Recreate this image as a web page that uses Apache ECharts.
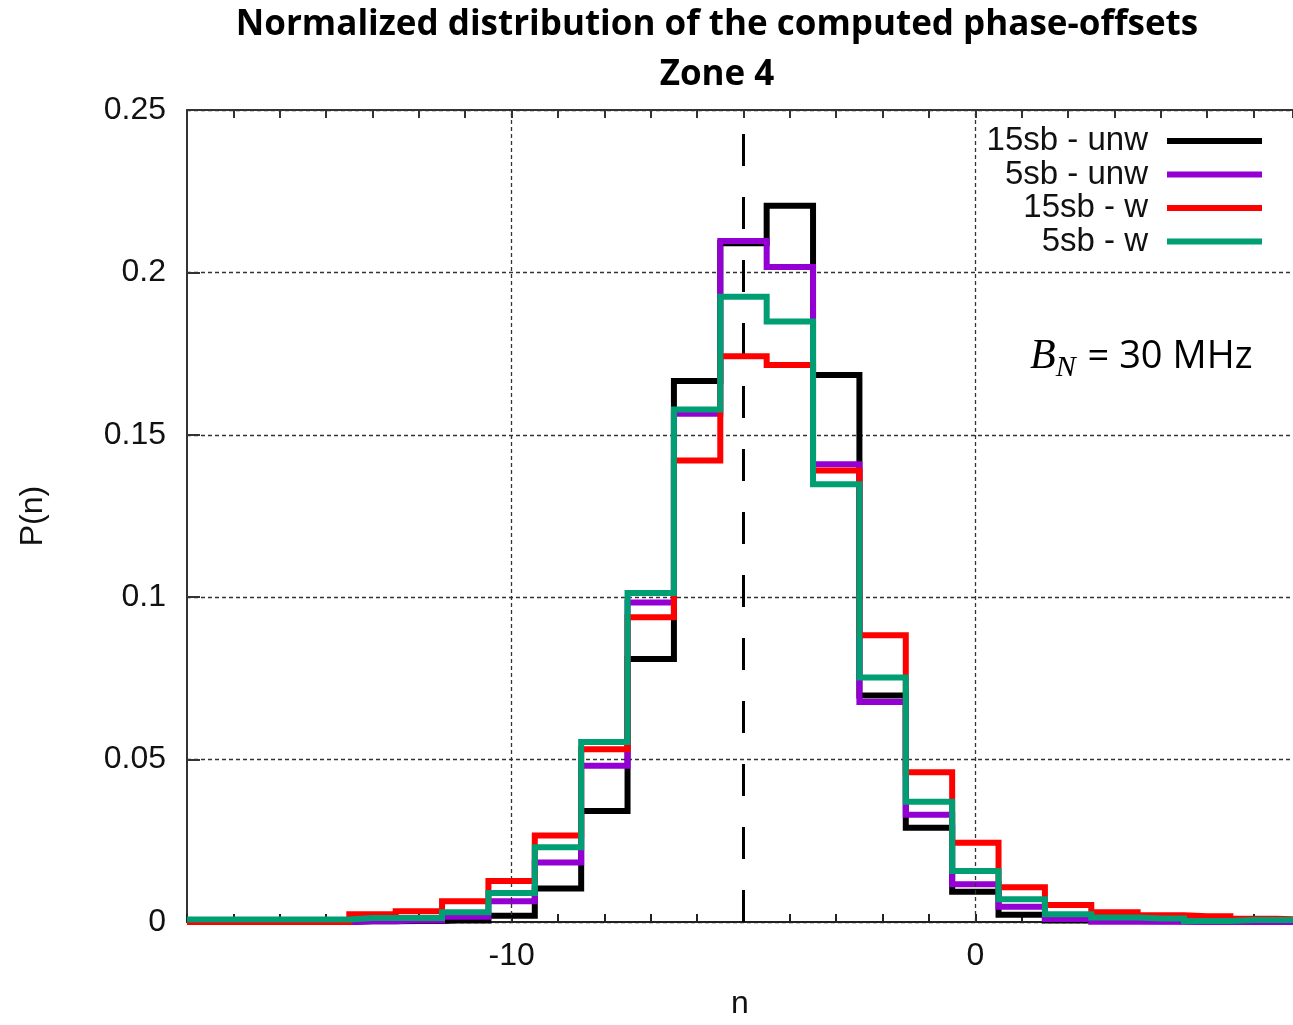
<!DOCTYPE html>
<html>
<head>
<meta charset="utf-8">
<title>Normalized distribution of the computed phase-offsets</title>
<script src="https://cdn.jsdelivr.net/npm/echarts@6/dist/echarts.min.js"></script>
<style>
  html, body { margin: 0; padding: 0; background: #fff; }
  #chart { width: 1293px; height: 1025px; }
</style>
</head>
<body>
<div id="chart"></div>
<script>
// bin centres n (bins are 1 wide)
const nBins = [-17, -16, -15, -14, -13, -12, -11, -10, -9, -8, -7, -6, -5, -4, -3, -2, -1, 0, 1, 2, 3, 4, 5, 6, 7]

const seriesNames = ['15sb - unw', '5sb - unw', '15sb - w', '5sb - w']
const seriesColors = ['#000000', '#9400d3', '#ff0000', '#009e73']

const unw15 = [0, 0, 0, 0, 0.0002, 0.0003, 0.0005, 0.0019, 0.0103, 0.0342, 0.081, 0.1666, 0.209, 0.2205, 0.1684, 0.0697, 0.029, 0.0093, 0.0022, 0.0005, 0.0003, 0.0002, 0.0001, 0.0001, 0]
const unw5 = [0, 0, 0, 0, 0.0002, 0.0005, 0.0016, 0.0064, 0.0183, 0.0481, 0.0984, 0.1565, 0.2097, 0.2017, 0.1409, 0.0677, 0.033, 0.0116, 0.0047, 0.0009, 0.0001, 0.0001, 0, 0, 0]
const w15 = [0, 0, 0, 0, 0.0024, 0.0033, 0.0064, 0.0126, 0.0266, 0.0532, 0.0938, 0.1421, 0.1742, 0.1715, 0.139, 0.0883, 0.0461, 0.0244, 0.0107, 0.0052, 0.003, 0.0021, 0.0018, 0.001, 0.0008]
const w5 = [0.0008, 0.0008, 0.0008, 0.0008, 0.0012, 0.0012, 0.003, 0.0089, 0.023, 0.0554, 0.1013, 0.1578, 0.1925, 0.1849, 0.1348, 0.0753, 0.037, 0.0157, 0.007, 0.0024, 0.0014, 0.0011, 0.0003, 0.0006, 0.0006]

const xLabels = [-10, 0]
const gridX = [-10, 0]
const meanN = -5

const chart = echarts.init(document.getElementById('chart'))

const allValues = [unw15, unw5, w15, w5]
const histSeries = allValues.map((vals, i) => ({
  name: seriesNames[i],
  type: 'line',
  step: 'middle',
  showSymbol: false,
  symbol: 'none',
  clip: true,
  z: 3 + i,
  color: seriesColors[i],
  lineStyle: { width: 6, color: seriesColors[i], join: 'miter', cap: 'butt' },
  data: nBins.map((n, j) => [n, vals[j]])
}))

const gridLine = { color: '#333', width: 1.3, type: [4, 3] }

const labelFont = {
  fontFamily: 'Liberation Sans',
  fontSize: 32,
  color: '#111'
}

chart.setOption({
  animation: false,
  backgroundColor: '#fff',
  title: {
    text: 'Normalized distribution of the computed phase-offsets\nZone 4',
    left: 717,
    top: 0,
    padding: 0,
    textAlign: 'center',
    textStyle: {
      fontFamily: 'Open Sans',
      fontWeight: 'bold',
      fontSize: 35,
      lineHeight: 50,
      color: '#000'
    }
  },
  legend: seriesNames.map((nm, i) => ({
    data: [nm],
    right: 31,
    top: 124 + i * 33.5,
    padding: 0,
    orient: 'vertical',
    align: 'right',
    icon: 'rect',
    itemWidth: 95,
    itemHeight: 6,
    selectedMode: false,
    textStyle: Object.assign({}, labelFont, { fontSize: 33, lineHeight: 34, padding: [0, 14, 0, 0] })
  })),
  grid: { left: 187, right: 0, top: 110, height: 818, containLabel: false },
  xAxis: [
    {
      type: 'value',
      position: 'bottom',
      min: -17,
      max: 6.85,
      interval: 1,
      name: 'n',
      nameLocation: 'middle',
      nameGap: 66,
      nameTextStyle: labelFont,
      axisLine: { show: true, onZero: false, lineStyle: { color: '#222', width: 2 } },
      axisTick: { show: true, inside: true, length: 8, lineStyle: { color: '#222', width: 2 } },
      axisLabel: {
        margin: 18,
        showMaxLabel: false,
        formatter: v => (xLabels.indexOf(v) >= 0 ? String(v) : ''),
        ...labelFont
      },
      splitLine: { show: false }
    },
    {
      type: 'value',
      position: 'top',
      min: -17,
      max: 6.85,
      interval: 1,
      axisLine: { show: true, onZero: false, lineStyle: { color: '#333', width: 2 } },
      axisTick: { show: true, inside: true, length: 8, lineStyle: { color: '#333', width: 2 } },
      axisLabel: { show: false },
      splitLine: { show: false }
    }
  ],
  yAxis: {
    type: 'value',
    position: 'left',
    min: 0,
    max: 0.25,
    interval: 0.05,
    name: 'P(n)',
    nameLocation: 'middle',
    nameRotate: 90,
    nameGap: 138,
    nameTextStyle: labelFont,
    axisLine: { show: true, onZero: false, lineStyle: { color: '#333', width: 2 } },
    axisTick: { show: true, inside: true, length: 13, lineStyle: { color: '#333', width: 2 } },
    axisLabel: Object.assign({ margin: 21 }, labelFont),
    splitLine: { show: true, lineStyle: gridLine }
  },
  graphic: [
    {
      type: 'text',
      x: 1030,
      y: 357,
      z: 10,
      style: {
        text: '{b|B}{s|N}{t| = 30 MHz}',
        textVerticalAlign: 'middle',
        rich: {
          b: { fontFamily: 'Liberation Serif', fontStyle: 'italic', fontSize: 42, verticalAlign: 'middle', lineHeight: 52 },
          s: { fontFamily: 'Liberation Serif', fontStyle: 'italic', fontSize: 30, verticalAlign: 'bottom', lineHeight: 52, padding: [0, 2, 0, 0] },
          t: { fontFamily: 'Open Sans', fontSize: 38, verticalAlign: 'middle', lineHeight: 52, fill: '#000' }
        },
        fill: '#000'
      }
    }
  ],
  series: [
    {
      // reference lines: grid at -10 and 0, dashed marker at the mean
      type: 'line',
      data: [],
      z: 1,
      silent: true,
      markLine: {
        silent: true,
        symbol: 'none',
        label: { show: false },
        animation: false,
        data: gridX.map(v => ({ xAxis: v, lineStyle: gridLine })).concat([
          { xAxis: meanN, lineStyle: { color: '#000', width: 3, type: [32, 31] } }
        ])
      }
    }
  ].concat(histSeries)
})

window.addEventListener('resize', () => chart.resize())
</script>
</body>
</html>
